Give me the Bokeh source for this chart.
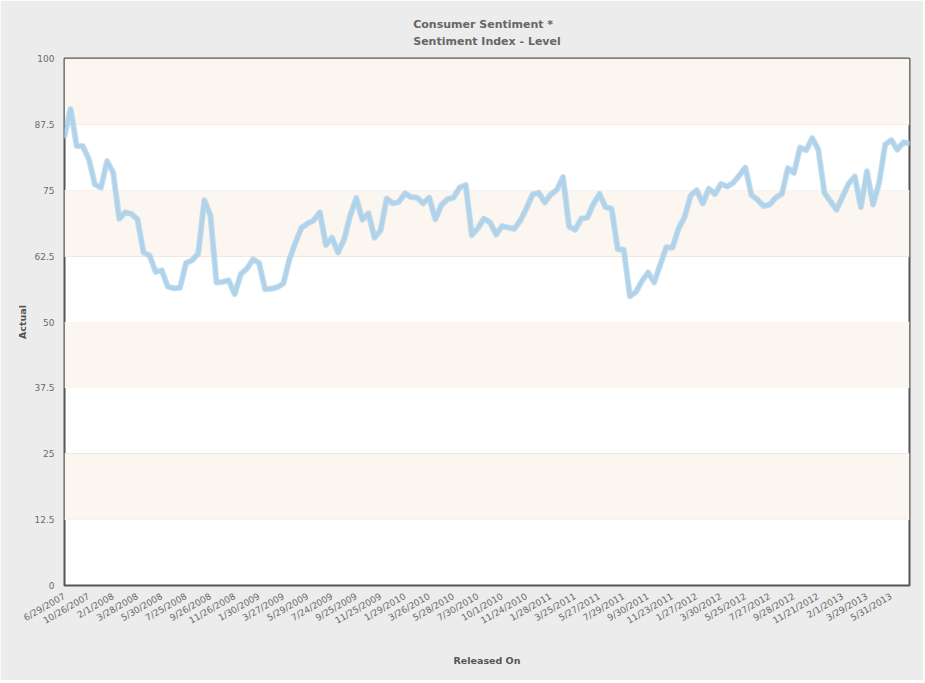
from bokeh.plotting import figure
from bokeh.models import (Range1d, FixedTicker, BoxAnnotation, Title,
                          CustomJSTickFormatter)
from bokeh.embed import file_html
from bokeh.resources import INLINE
import math

# ---- data -----------------------------------------------------------------
title_text = "Consumer Sentiment *"
subtitle_text = "Sentiment Index - Level"
y_label = "Actual"
x_label = "Released On"

# tick labels shown on the category axis (every 4th release)
x_tick_labels = [
    "6/29/2007", "10/26/2007", "2/1/2008", "3/28/2008", "5/30/2008",
    "7/25/2008", "9/26/2008", "11/26/2008", "1/30/2009", "3/27/2009",
    "5/29/2009", "7/24/2009", "9/25/2009", "11/25/2009", "1/29/2010",
    "3/26/2010", "5/28/2010", "7/30/2010", "10/1/2010", "11/24/2010",
    "1/28/2011", "3/25/2011", "5/27/2011", "7/29/2011", "9/30/2011",
    "11/23/2011", "1/27/2012", "3/30/2012", "5/25/2012", "7/27/2012",
    "9/28/2012", "11/21/2012", "2/1/2013", "3/29/2013", "5/31/2013",
]
label_step = 4

# sentiment index values, one per release
values = [
    85.3, 90.4, 83.4, 83.4, 80.9, 76.1, 75.5, 80.5, 78.4, 69.6,
    70.8, 70.5, 69.5, 63.2, 62.6, 59.5, 59.8, 56.7, 56.4, 56.5,
    61.2, 61.7, 63.0, 73.1, 70.3, 57.5, 57.6, 57.9, 55.3, 59.1,
    60.1, 61.9, 61.2, 56.2, 56.3, 56.6, 57.3, 61.9, 65.1, 67.9,
    68.7, 69.3, 70.8, 64.6, 66.0, 63.2, 65.7, 70.2, 73.5, 69.4,
    70.6, 66.0, 67.4, 73.4, 72.5, 72.8, 74.4, 73.7, 73.6, 72.5,
    73.6, 69.5, 72.2, 73.3, 73.6, 75.5, 76.0, 66.5, 67.8, 69.6,
    68.9, 66.6, 68.2, 67.9, 67.7, 69.3, 71.6, 74.2, 74.5, 72.7,
    74.2, 75.1, 77.5, 68.1, 67.5, 69.6, 69.8, 72.4, 74.3, 71.8,
    71.5, 63.8, 63.7, 54.9, 55.7, 57.8, 59.4, 57.5, 60.9, 64.2,
    64.1, 67.7, 69.9, 74.0, 75.0, 72.5, 75.3, 74.3, 76.2, 75.7,
    76.4, 77.8, 79.3, 74.1, 73.2, 72.0, 72.3, 73.6, 74.3, 79.2,
    78.3, 83.1, 82.6, 84.9, 82.7, 74.5, 72.9, 71.3, 73.8, 76.3,
    77.6, 71.8, 78.6, 72.3, 76.4, 83.7, 84.5, 82.7, 84.1, 83.9,
]

y_ticks = [0, 12.5, 25, 37.5, 50, 62.5, 75, 87.5, 100]

# ---- figure ---------------------------------------------------------------
x = list(range(len(values)))
x_max = len(values) - 1
y_max = y_ticks[-1]

p = figure(width=923, height=680, output_backend="svg", toolbar_location=None,
           title=None,
           x_range=Range1d(0, x_max), y_range=Range1d(0, y_max),
           min_border_left=64, min_border_right=14, min_border_top=58,
           min_border_bottom=95)

p.background_fill_color = "#ffffff"
p.border_fill_color = "#ececec"
p.outline_line_color = "#555555"
p.outline_line_width = 2

# alternating bands
for i in range(len(y_ticks) - 1):
    if i % 2 == 1:
        p.add_layout(BoxAnnotation(bottom=y_ticks[i], top=y_ticks[i + 1],
                                   fill_color="#fcf6f0", fill_alpha=1.0,
                                   line_color=None, level="underlay"))

p.xgrid.grid_line_color = None
p.ygrid.grid_line_color = "#f1e2d3"
p.ygrid.grid_line_width = 1
p.ygrid.level = "underlay"

# title + subtitle as one two-line title
p.add_layout(Title(text=title_text + "\n" + subtitle_text, align="center",
                   text_font="DejaVu Sans", text_font_size="11px",
                   text_font_style="bold", text_color="#666666",
                   text_line_height=1.35, standoff=20), "above")

# axes
p.yaxis.ticker = FixedTicker(ticks=y_ticks)
p.yaxis.formatter = CustomJSTickFormatter(code="return String(tick);")
p.xaxis.ticker = FixedTicker(ticks=[i * label_step for i in range(len(x_tick_labels))])
p.xaxis.major_label_overrides = {i * label_step: lab for i, lab in enumerate(x_tick_labels)}
p.xaxis.major_label_orientation = math.pi / 6

for ax in (p.xaxis, p.yaxis):
    ax.axis_line_color = None
    ax.major_tick_line_color = None
    ax.minor_tick_line_color = None
    ax.major_label_text_font = "DejaVu Sans"
    ax.major_label_text_font_size = "9px"
    ax.major_label_text_color = "#6b6b6b"
    ax.axis_label_text_font = "DejaVu Sans"
    ax.axis_label_text_font_size = "9.5px"
    ax.axis_label_text_font_style = "bold"
    ax.axis_label_text_color = "#555555"

p.yaxis.axis_label = y_label
p.xaxis.axis_label = x_label
p.yaxis.major_label_standoff = 4
p.xaxis.major_label_standoff = 4
p.yaxis.axis_label_standoff = 3
p.xaxis.axis_label_standoff = 22

# line with soft edge
p.line(x, values, line_width=6, line_color="#9fc4e2", line_alpha=0.55,
       line_join="round", line_cap="round")
p.line(x, values, line_width=4, line_color="#b0d3ec",
       line_join="round", line_cap="round")

open("out.html", "w").write(file_html(p, INLINE))
